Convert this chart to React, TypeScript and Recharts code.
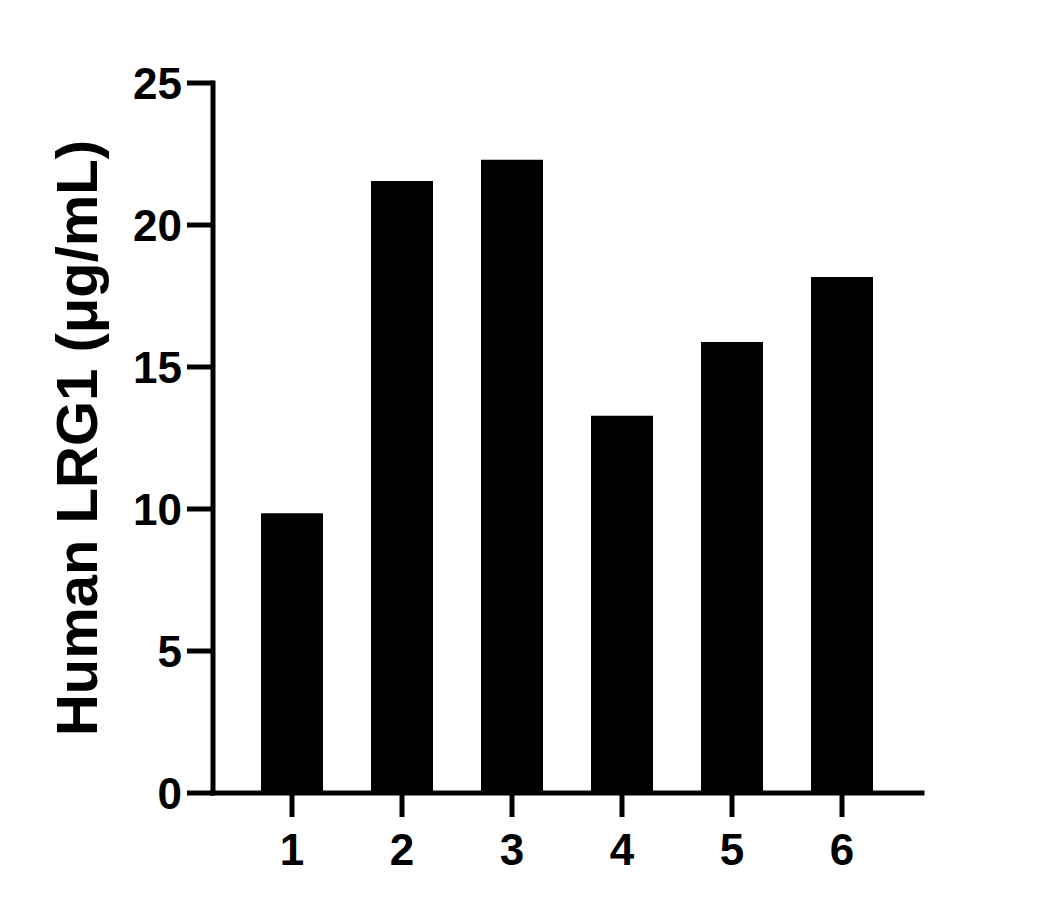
import { BarChart, Bar, XAxis, YAxis } from "recharts";

const samples = ["1", "2", "3", "4", "5", "6"];
const lrg1 = [9.85, 21.55, 22.3, 13.28, 15.88, 18.17];
const yTicks = [0, 5, 10, 15, 20, 25];

const data = samples.map((name, i) => ({ name, value: lrg1[i] }));

const font = "'Liberation Sans', Arial, sans-serif";

function YLabel({ viewBox }: any) {
  const x = viewBox.x - 16;
  const y = viewBox.y + viewBox.height / 2;
  return (
    <text
      x={x}
      y={y}
      transform={`rotate(-90, ${x}, ${y})`}
      textAnchor="middle"
      fontFamily={font}
      fontWeight="bold"
      fontSize={58}
      fill="#000"
    >
      Human LRG1 (μg/mL)
    </text>
  );
}

export default function App() {
  const axisLine = { stroke: "#000", strokeWidth: 5, strokeLinecap: "square" as const };
  const tickLine = { stroke: "#000", strokeWidth: 5 };
  const tick = { fill: "#000", fontSize: 44, fontWeight: "bold", fontFamily: font };

  return (
    <div style={{ position: "absolute", left: 0, top: 0, background: "#fff" }}>
      <BarChart
        width={1055}
        height={910}
        data={data}
        margin={{ top: 83, right: 133, bottom: 17, left: 113 }}
      >
        <XAxis
          dataKey="name"
          padding={{ left: 24, right: 25 }}
          axisLine={axisLine}
          tickLine={tickLine}
          tickSize={24}
          tickMargin={17}
          tick={tick}
          height={100}
        />
        <YAxis
          domain={[0, 25]}
          ticks={yTicks}
          interval={0}
          axisLine={axisLine}
          tickLine={tickLine}
          tickSize={26}
          tickMargin={5}
          tick={tick}
          width={100}
          label={<YLabel />}
        />
        <Bar dataKey="value" fill="#000" barSize={62} isAnimationActive={false} />
      </BarChart>
    </div>
  );
}
